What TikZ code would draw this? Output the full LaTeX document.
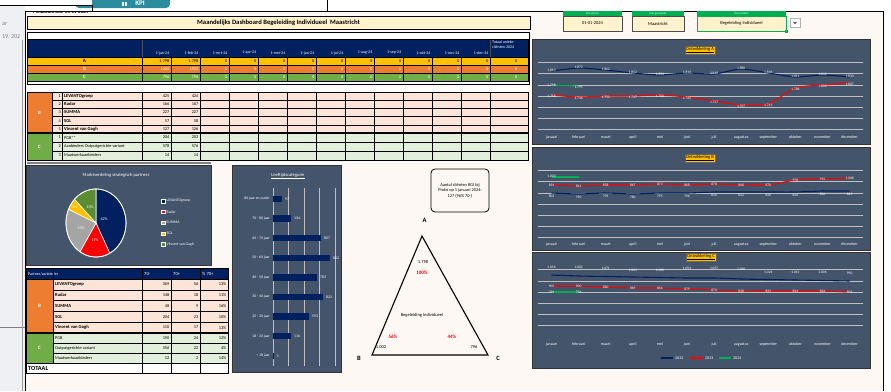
\documentclass[tikz,border=0pt]{standalone}
\usepackage{fontspec}
\setmainfont{Carlito}
\definecolor{navy}{HTML}{002060}
\definecolor{slate}{HTML}{44546A}
\definecolor{cream}{HTML}{FDF8F3}
\definecolor{titlebg}{HTML}{FFF2CC}
\definecolor{yel}{HTML}{FFC000}
\definecolor{ora}{HTML}{ED7D31}
\definecolor{grn}{HTML}{70AD47}
\definecolor{pink}{HTML}{FCE4D6}
\definecolor{lgrn}{HTML}{E2EFDA}
\definecolor{xlgreen}{HTML}{00B050}
\definecolor{tealc}{HTML}{2A8C9C}
\definecolor{gridc}{HTML}{BFBFBF}
\definecolor{pgray}{HTML}{A5A5A5}
\definecolor{pgreen}{HTML}{5B8C32}
\definecolor{leftbg}{HTML}{EEF0F3}
\definecolor{redc}{HTML}{FF0000}
\newcommand\fsz[1]{\fontsize{#1}{#1}\selectfont}
\begin{document}
\begin{tikzpicture}[x=1pt,y=-1pt,
  tx/.style={inner sep=0pt, font=\fsz{4.3}},
  wt/.style={tx, text=white},
  bt/.style={inner sep=0pt, font=\fsz{4.6}\bfseries},
  dl/.style={inner sep=0pt, font=\fsz{3.6}, text=white},
  ml/.style={inner sep=0pt, font=\fsz{4}, text=white},
  gl/.style={draw=gridc, line width=0.6pt},
  grd/.style={draw=black, line width=0.4pt},
  ctitle/.style={fill=yel, draw=black!60, line width=0.3pt, inner sep=1.2pt, font=\fsz{4.6}},
  hdr/.style={fill=xlgreen, text=white, inner sep=0pt, font=\fsz{2.8}},
  selbox/.style={fill=titlebg, draw=black!70, line width=0.4pt, inner sep=0pt, font=\fsz{4.5}},
  l22/.style={navy, line width=1.1pt},
  l23/.style={redc, line width=1.1pt},
  l24/.style={xlgreen, line width=1.1pt},
  panel/.style={fill=slate, draw=black!80, line width=0.8pt},
]
\path[use as bounding box] (0,0) rectangle (891,391);
\clip (0,0) rectangle (891,391);
% ---------- backgrounds
\fill[white] (0,0) rectangle (891,391);
\fill[leftbg] (0,0) rectangle (25,391);
\fill[cream] (25,11) rectangle (883,391);
\draw[black!50, line width=0.6pt] (0,327) -- (25,327);
\draw[black!40, line width=0.8pt] (22,40) -- (22,391);
\node[tx, text=black!50, font=\fsz{6}, anchor=west] (sideA) at (2,24) {ar};
\node[tx, text=black!50, font=\fsz{6}, anchor=west] (sideB) at (2,37) {19, 202};
% header text partly covered by the popup
\node[tx, font=\fsz{5}\bfseries, anchor=west] (peil) at (33,12) {Peildatum d.d. 01-01-2024};
\fill[white] (25,0) rectangle (327,10.5);
\draw[black, line width=0.8pt] (327,0) -- (327,11);
\fill[tealc, rounded corners=4pt] (75,-6) rectangle (170,8);
\fill[white] (0,0) rectangle (92,5.5);
\draw[black, line width=0.8pt] (0,5.5) -- (92,5.5) -- (92,11);
\node[inner sep=0pt, text=white, font=\fsz{7}\bfseries] (kpi) at (140,3.5) {KPI};
\fill[white] (122,1.5) rectangle (123.5,6);
\fill[white] (125,1.5) rectangle (126.5,6);
% frame
\draw[black, line width=1pt] (25,391) -- (25,11) -- (883,11) -- (883,391);
% ---------- title
\node[draw=black, line width=0.6pt, fill=titlebg, minimum width=503pt, minimum height=13pt, inner sep=0pt, font=\fsz{6.6}\bfseries] (title) at (278.5,22.5) {Maandelijks Dashboard Begeleiding Individueel\ \ Maastricht};
% ---------- selectors
\node[hdr, minimum width=59pt, minimum height=5pt] (h1) at (592.5,13.5) {Kies datum};
\node[selbox, minimum width=59pt, minimum height=15pt] (s1) at (592.5,23.5) {01-01-2024};
\node[hdr, minimum width=52pt, minimum height=5pt] (h2) at (658,13.5) {Kies gemeente};
\node[selbox, minimum width=52pt, minimum height=15pt] (s2) at (658,23.5) {Maastricht};
\node[hdr, minimum width=89pt, minimum height=5pt] (h3) at (741.5,13.5) {Kies product};
\node[selbox, draw=xlgreen, line width=0.8pt, minimum width=89pt, minimum height=15pt] (s3) at (741.5,23.5) {Begeleiding Individueel};
\fill[xlgreen] (784.5,29.5) rectangle (787.5,32.5);
\node[fill=white, draw=black!30, line width=0.3pt, minimum width=10pt, minimum height=9pt, inner sep=0pt] (dd) at (795,23) {};
\fill[black!60] (793,22) -- (797,22) -- (795,24.5) -- cycle;
% ---------- top table
\fill[white] (27,32) rectangle (529,84);
\draw[black, line width=0.6pt] (27,32) rectangle (529,84);
\fill[navy] (27,39) rectangle (528,57);
\fill[yel] (27,57) rectangle (528,65);
\fill[ora] (27,65) rectangle (528,73);
\fill[grn] (27,73) rectangle (528,81);
\foreach \m [count=\i from 0] in {jan,feb,mrt,apr,mei,jun,jul,aug,sep,okt,nov,dec}{
  \node[wt, font=\fsz{4}, anchor=east] (th\i) at ({142+29*(\i+1)-1.5},53) {1-\m-24};
}
\node[wt, font=\fsz{4}, align=left, anchor=north west] (thT) at (492,41) {Totaal unieke\\[1pt]cliënten 2024};
\node[bt, font=\fsz{5}\bfseries] (rA) at (84.5,61) {A};
\node[bt, font=\fsz{5}\bfseries, text=white] (rB) at (84.5,69) {B};
\node[bt, font=\fsz{5}\bfseries, text=white] (rC) at (84.5,77) {C};
\foreach \v [count=\i from 0] in {1.798,1.798,0,0,0,0,0,0,0,0,0,0,0}{
  \node[tx, anchor=east] (va\i) at ({142+29*(\i+1)-1.5},61) {\v};
}
\foreach \v [count=\i from 0] in {1002,1002,0,0,0,0,0,0,0,0,0,0,0}{
  \node[wt, anchor=east] (vb\i) at ({142+29*(\i+1)-1.5},69) {\v};
}
\foreach \v [count=\i from 0] in {796,796,0,0,0,0,0,0,0,0,0,0,0}{
  \node[wt, anchor=east] (vc\i) at ({142+29*(\i+1)-1.5},77) {\v};
}
\foreach \k in {0,...,12}{
  \draw[grd] ({142+29*\k},57) -- ({142+29*\k},81);
}
\draw[black!70, line width=0.4pt] (142,39) -- (142,57);
\draw[black!70, line width=0.4pt] (490,39) -- (490,57);
\foreach \yy in {57,65,73,81}{ \draw[grd] (27,\yy) -- (528,\yy); }
\draw[black, line width=0.7pt] (27,39) rectangle (528,81);
% ---------- partner table
\fill[white] (27,86) rectangle (528,92);
\fill[pink] (52,92) rectangle (528,133);
\fill[lgrn] (52,133) rectangle (528,160);
\node[fill=ora, minimum width=25pt, minimum height=41pt, inner sep=0pt, text=white, font=\fsz{4.8}\bfseries] (pB) at (39.5,112.5) {B};
\node[fill=grn, minimum width=25pt, minimum height=27pt, inner sep=0pt, text=white, font=\fsz{4.8}\bfseries] (pC) at (39.5,146.5) {C};
\foreach \n/\a/\b [count=\i] in {LEVANTOgroep/425/424, Radar/166/167, SUMMA/227/227, SGL/57/58, Vincent van Gogh/127/126}{
  \pgfmathsetmacro\yc{96.1+8.2*(\i-1)}
  \node[tx, anchor=east] (pn\i) at (61,\yc) {\i};
  \node[bt, anchor=west] (pname\i) at (64,\yc) {\n};
  \node[tx, anchor=east] (pa\i) at (169.5,\yc) {\a};
  \node[tx, anchor=east] (pb\i) at (198.5,\yc) {\b};
}
\foreach \n/\a/\b [count=\i] in {PGB**/204/203, Aanbieders Outputgerichte variant/578/576, Maatwerkaanbieders/14/14}{
  \pgfmathsetmacro\yc{137.5+9*(\i-1)}
  \node[tx, anchor=east] (qn\i) at (61,\yc) {\i};
  \node[tx, anchor=west] (qname\i) at (64,\yc) {\n};
  \node[tx, anchor=east] (qa\i) at (169.5,\yc) {\a};
  \node[tx, anchor=east] (qb\i) at (198.5,\yc) {\b};
}
\foreach \yy in {100.2,108.4,116.6,124.8,142,151}{ \draw[grd] (52,\yy) -- (528,\yy); }
\draw[grd] (62,92) -- (62,160);
\foreach \k in {0,...,12}{ \draw[grd] ({142+29*\k},92) -- ({142+29*\k},160); }
\draw[black, line width=1.3pt] (27,133) -- (528,133);
\draw[black, line width=0.8pt] (27,92) rectangle (528,160);
\draw[black, line width=0.5pt] (52,92) -- (52,160);
% ---------- pie panel
\draw[black!50, line width=1.2pt] (27,163) -- (211,163);
\path[panel] (26,165) rectangle (211,265);
\node[inner sep=0pt, text=white, font=\fsz{4.6}] (pietitle) at (116,175) {Marktverdeling strategisch partners};
\foreach \a/\b/\c in {0/152.7/navy, 152.7/212.3/redc, 212.3/293.9/pgray, 293.9/314.4/yel, 314.4/360/pgreen}{
  \filldraw[fill=\c, draw=white, line width=0.6pt] (96,223) -- plot[domain=\a:\b, samples=40] ({96+30*sin(\x)},{223-34*cos(\x)}) -- cycle;
}
\draw[white, line width=0.8pt] plot[domain=0:360, samples=90] ({96+30*sin(\x)},{223-34*cos(\x)});
\node[dl, font=\fsz{4}] (p42) at (104,219) {42\%};
\node[dl, font=\fsz{4}] (p17) at (95,240) {17\%};
\node[dl, font=\fsz{4}] (p23) at (81,228) {23\%};
\node[dl, font=\fsz{4}] (p6) at (75,207) {6\%};
\node[dl, font=\fsz{4}] (p13) at (90,207) {13\%};
\foreach \n/\c [count=\i from 0] in {LEVANTOgroep/navy, Radar/redc, SUMMA/pgray, SGL/yel, Vincent van Gogh/pgreen}{
  \pgfmathsetmacro\yc{201+10.8*\i}
  \filldraw[fill=\c, draw=white, line width=0.4pt] (161.5,{\yc-1.7}) rectangle (165,{\yc+1.7});
  \node[dl, font=\fsz{3.8}, anchor=west] (lg\i) at (166.5,\yc) {\n};
}
% ---------- bottom-left table
\fill[navy] (26,268) rectangle (228,279);
\fill[pink] (53,279) rectangle (228,333);
\fill[lgrn] (53,333) rectangle (228,363);
\fill[white] (26,363) rectangle (228,373);
\node[wt, font=\fsz{4}, anchor=west] (bh0) at (28,274) {Partner/aanbieder};
\node[wt, font=\fsz{4.6}, anchor=west] (bh1) at (144,274) {70-};
\node[wt, font=\fsz{4.6}, anchor=west] (bh2) at (173,274) {70+};
\node[wt, font=\fsz{4.6}, anchor=west] (bh3) at (202,274) {\% 70+};
\node[fill=ora, minimum width=27pt, minimum height=54pt, inner sep=0pt, text=white, font=\fsz{5}\bfseries] (bB) at (39.5,306) {B};
\node[fill=grn, minimum width=27pt, minimum height=30pt, inner sep=0pt, text=white, font=\fsz{5}\bfseries] (bC) at (39.5,348) {C};
\foreach \n/\a/\b/\p [count=\i] in {LEVANTOgroep/369/56/13\%, Radar/148/18/11\%, SUMMA/48/9/16\%, SGL/204/23/10\%, Vincent van Gogh/110/17/13\%}{
  \pgfmathsetmacro\yc{284.4+10.8*(\i-1)}
  \node[bt, anchor=west] (bn\i) at (55,\yc) {\n};
  \node[tx, anchor=east] (ba\i) at (169.5,\yc) {\a};
  \node[tx, anchor=east] (bb\i) at (198.5,\yc) {\b};
  \node[tx, anchor=east] (bp\i) at (226.5,\yc) {\p};
}
\foreach \n/\a/\b/\p [count=\i] in {PGB/190/24/12\%, Outputgerichte variant/556/22/4\%, Maatwerkaanbieders/12/2/14\%}{
  \pgfmathsetmacro\yc{338+10*(\i-1)}
  \node[tx, anchor=west] (cn\i) at (55,\yc) {\n};
  \node[tx, anchor=east] (ca\i) at (169.5,\yc) {\a};
  \node[tx, anchor=east] (cb\i) at (198.5,\yc) {\b};
  \node[tx, anchor=east] (cp\i) at (226.5,\yc) {\p};
}
\node[inner sep=0pt, font=\fsz{6.3}\bfseries, anchor=west] (tot) at (28,368.3) {TOTAAL};
\foreach \yy in {289.8,300.6,311.4,322.2,343,353}{ \draw[grd] (53,\yy) -- (228,\yy); }
\foreach \xx in {142,171,200}{ \draw[grd] (\xx,268) -- (\xx,373); }
\draw[grd] (53,268) -- (53,363);
\draw[black, line width=1.2pt] (26,333) -- (228,333);
\draw[black, line width=0.8pt] (26,363) -- (228,363);
\draw[black, line width=0.8pt] (26,279) -- (228,279);
\draw[black, line width=0.8pt] (26,268) rectangle (228,373);
% ---------- age panel
\path[panel] (232,165) rectangle (341,372);
\node[inner sep=0pt, text=white, font=\fsz{4.6}] (agetitle) at (288,176) {\underline{Leeftijdscategorie}};
\foreach \xx in {273,288.5,304,319.5,335}{ \draw[gl, line width=0.5pt] (\xx,188) -- (\xx,366); }
\foreach \c/\e/\v [count=\i from 0] in {80 jaar en ouder/282/97, 70 - 80 jaar/291/134, 60 - 70 jaar/321/807, 50 - 60 jaar/330/862, 40 - 50 jaar/317/783, 30 - 40 jaar/323/822, 20 - 30 jaar/309/593, 18 - 20 jaar/291/116, < 18 jaar/273.6/1}{
  \pgfmathsetmacro\yc{199+19.6*\i}
  \node[dl, font=\fsz{3.8}, anchor=east] (ac\i) at (270,\yc) {\c};
  \fill[navy] (273,{\yc-3.2}) rectangle (\e,{\yc+3.2});
  \node[dl, font=\fsz{3.8}, anchor=west] (av\i) at ({\e+3},\yc) {\v};
}
% ---------- info box and triangle
\node[draw=black, line width=0.8pt, rounded corners=4pt, fill=cream, minimum width=58pt, minimum height=43pt, align=center, inner sep=1pt, font=\fsz{4.4}] (info) at (460,190.5) {Aantal cliënten BGI bij\\[1.2pt]Probs op 1 januari 2024:\\[1.2pt]127 (96\% 70-)};
\coordinate (tA) at (422,236);
\coordinate (tB) at (372,355);
\coordinate (tC) at (488,355);
\draw[black, line width=1.1pt, line join=miter] (tA) -- (tB) -- (tC) -- cycle;
\node[inner sep=0pt, font=\fsz{6.5}\bfseries] (labA) at (424.5,220) {A};
\node[inner sep=0pt, font=\fsz{6.5}\bfseries] (labB) at (359,358) {B};
\node[inner sep=0pt, font=\fsz{6.5}\bfseries] (labC) at (498,358) {C};
\node[tx, font=\fsz{4.5}] (nA) at (423,262) {1.798};
\node[inner sep=0pt, text=redc, font=\fsz{5}\bfseries] (pA) at (422,273) {100\%};
\node[tx, font=\fsz{4.5}] (bi) at (422,315) {Begeleiding Individueel};
\node[inner sep=0pt, text=redc, font=\fsz{5}\bfseries] (pBB) at (393,337) {56\%};
\node[inner sep=0pt, text=redc, font=\fsz{5}\bfseries] (pCC) at (452,337) {44\%};
\node[tx, font=\fsz{4.5}] (nB) at (381,347) {1.002};
\node[tx, font=\fsz{4.5}] (nC) at (474,347) {796};
% ---------- chart A
\path[panel] (532,39) rectangle (870,144);
\node[ctitle] (ta) at (700,50) {\underline{Ontwikkeling A}};
\foreach \yy in {62,73,85,96,107,118,129}{ \draw[gl] (538,\yy) -- (863,\yy); }
\foreach \m [count=\i from 0] in {januari,februari,maart,april,mei,juni,juli,augustus,september,oktober,november,december}{
  \node[ml] (ma\i) at ({551.5+27.1*\i},137.5) {\m};
}
\draw[l22] plot[smooth, tension=0.4] coordinates {(551.5,71) (578.6,68) (605.7,70) (632.8,73) (659.9,75) (687,73) (714.1,74) (741.2,69) (768.3,73) (795.4,77) (822.5,75) (849.6,77)};
\draw[l23] plot[smooth, tension=0.4] coordinates {(551.5,95) (578.6,97) (605.7,96) (632.8,96) (659.9,95) (687,97) (714.1,101) (741.2,105) (768.3,104) (795.4,88) (822.5,85) (849.6,83)};
\draw[l24] (551.5,85) -- (578.6,86);
\foreach \yy/\lab [count=\i from 0] in {71/1.863,68/1.872,70/1.862,73/1.852,75/1.833,73/1.816,74/1.848,69/1.880,73/1.846,77/1.811,75/1.842,77/1.833}{
  \node[dl] (da\i) at ({551.5+27.1*\i},{\yy-1}) {\lab};
}
\foreach \yy/\lab [count=\i from 0] in {95/1.758,97/1.746,96/1.750,96/1.747,95/1.756,97/1.742,101/1.727,105/1.707,104/1.715,88/1.788,85/1.802,83/1.807}{
  \node[dl] (ea\i) at ({551.5+27.1*\i},{\yy+1}) {\lab};
}
\node[dl] (fa0) at (551.5,85) {1.798};
\node[dl] (fa1) at (578.6,87) {1.795};
% ---------- chart B
\path[panel] (532,147) rectangle (870,250);
\node[ctitle] (tb) at (700,158) {\underline{Ontwikkeling B}};
\foreach \yy in {170,181,193,204,215,226,237}{ \draw[gl] (538,\yy) -- (863,\yy); }
\foreach \m [count=\i from 0] in {januari,februari,maart,april,mei,juni,juli,augustus,september,oktober,november,december}{
  \node[ml] (mb\i) at ({551.5+27.1*\i},244.5) {\m};
}
\draw[l22] plot[smooth, tension=0.4] coordinates {(551.5,193) (578.6,194) (605.7,193) (632.8,194) (659.9,193) (687,193) (714.1,192) (741.2,192) (768.3,192) (795.4,192) (822.5,191) (849.6,191)};
\draw[l23] plot[smooth, tension=0.4] coordinates {(551.5,185) (578.6,186) (605.7,185) (632.8,185) (659.9,184) (687,185) (714.1,184) (741.2,185) (768.3,185) (795.4,180) (822.5,179) (849.6,178)};
\draw[l24] (551.5,177) -- (578.6,177);
\foreach \yy/\lab [count=\i from 0] in {193/803,194/790,193/795,194/780,193/795,193/796,192/816,192/822,192/820,192/826,191/836,191/843}{
  \node[dl] (db\i) at ({551.5+27.1*\i},{\yy+3.5}) {\lab};
}
\foreach \yy/\lab [count=\i from 0] in {185/854,186/841,185/858,185/867,184/873,185/868,184/878,185/868,185/870,180/978,179/992,178/1.008}{
  \node[dl] (eb\i) at ({551.5+27.1*\i},{\yy}) {\lab};
}
\node[dl] (fb0) at (551.5,176.5) {1.003};
% ---------- chart C
\path[panel] (532,252) rectangle (870,368);
\node[ctitle] (tc) at (701,257) {\underline{Ontwikkeling C}};
\foreach \yy in {269,281,292,303,314,325}{ \draw[gl] (538,\yy) -- (863,\yy); }
\foreach \m [count=\i from 0] in {januari,februari,maart,april,mei,juni,juli,augustus,september,oktober,november,december}{
  \node[ml] (mc\i) at ({551.5+27.1*\i},344.5) {\m};
}
\draw[l22] plot[smooth, tension=0.4] coordinates {(551.5,275) (578.6,276) (605.7,276.5) (632.8,277) (659.9,277.5) (687,278) (714.1,278) (741.2,279) (768.3,279.5) (795.4,280) (822.5,280.5) (849.6,281)};
\draw[l23] plot[smooth, tension=0.4] coordinates {(551.5,286) (578.6,286) (605.7,287) (632.8,288) (659.9,288) (687,289) (714.1,290) (741.2,291) (768.3,291) (795.4,291) (822.5,291) (849.6,292)};
\draw[l24] (551.5,292) -- (578.6,292);
\foreach \yy/\lab [count=\i from 0] in {267/1.056,267/1.082,268/1.071,270/1.061,270/1.060,268/1.054,268/1.057,269/1.030,272/1.024,272/1.013,272/1.006,273.5/990}{
  \node[dl] (dc\i) at ({551.5+27.1*\i},\yy) {\lab};
}
\foreach \yy/\lab [count=\i from 0] in {286/905,286/900,287/880,288/869,288/866,289/879,290/870,291/828,291/833,291/834,291/824,292/805}{
  \node[dl] (ec\i) at ({551.5+27.1*\i},\yy) {\lab};
}
\node[dl] (fc0) at (551.5,292.5) {796};
\node[dl] (fc1) at (578.6,292.5) {796};
\draw[l22] (661,358) -- (673,358);
\node[ml, anchor=west] (lg22) at (675,358) {2022};
\draw[l23] (690,358) -- (703,358);
\node[ml, anchor=west] (lg23) at (705,358) {2023};
\draw[l24] (719,358) -- (731,358);
\node[ml, anchor=west] (lg24) at (733,358) {2024};
\end{tikzpicture}
\end{document}
